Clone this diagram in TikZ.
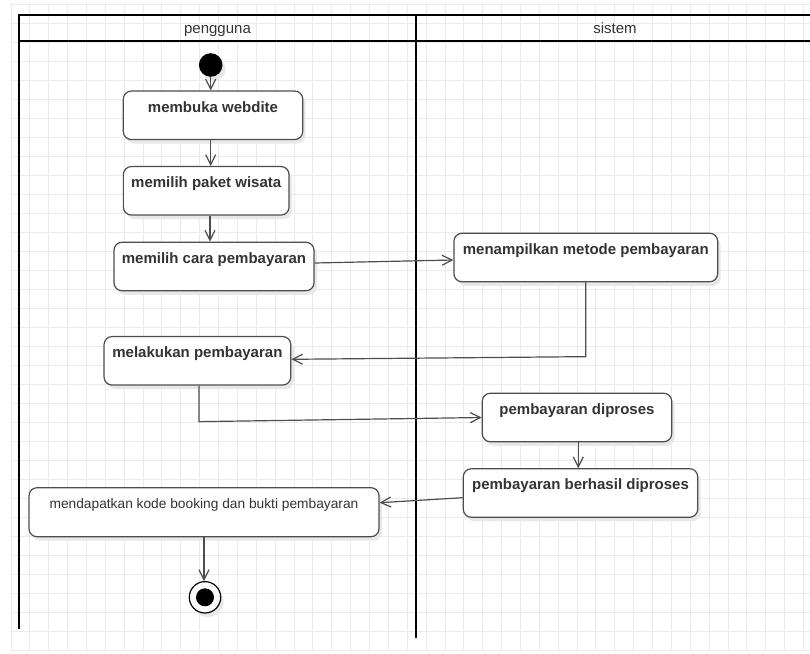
\documentclass[tikz,border=0pt]{standalone}
\usepackage{fontspec}
\setmainfont{Liberation Sans}
\usetikzlibrary{arrows.meta, positioning, shadows, calc}
\definecolor{gridline}{HTML}{EBEBEB}
\definecolor{boxline}{HTML}{4D4D4D}
\definecolor{boxtext}{HTML}{333333}
\colorlet{shadowgray}{black!9}
\tikzset{
  act/.style={draw=boxline, line width=1.2pt, fill=white, rounded corners=8pt,
    text=boxtext, font=\fontsize{15}{17}\selectfont\bfseries, align=center,
    inner xsep=0pt, inner ysep=0pt, text height=21pt, text depth=27.5pt,
    drop shadow={shadow xshift=3pt, shadow yshift=-4pt, fill=shadowgray, opacity=1}},
  lanehead/.style={text=boxtext, font=\fontsize{15}{17}\selectfont, inner sep=0pt,
    text height=10.5pt, text depth=3pt},
  flow/.style={draw=boxline, line width=1.2pt, -{Straight Barb[length=10pt,width=10pt]}},
  lane/.style={draw=black, line width=2pt},
}
\newcommand{\bggrid}{%
  \foreach \i in {0,...,42} {
    \draw[gridline, line width=1pt] (11+\i*18.87,3) -- ++(0,647);
  }%
  \foreach \j in {0,...,34} {
    \draw[gridline, line width=1pt] (10,4+\j*19) -- (810,4+\j*19);
  }%
}

\begin{document}
\begin{tikzpicture}[x=1pt, y=-1pt]
  \useasboundingbox (0,0) rectangle (810,653);
  \bggrid

  % swimlanes
  \draw[lane] (810,15) -- (19,15) -- (19,629);
  \draw[lane] (19,40.7) -- (810,40.7);
  \draw[lane] (416,15) -- (416,638);
  \node[lanehead] (pengguna) at (217.5,29.5) {pengguna};
  \node[lanehead] (sistem) at (615,29.5) {sistem};

  % pengguna
  \node[circle, fill=black, minimum size=23.6pt, inner sep=0pt,
    drop shadow={shadow xshift=3pt, shadow yshift=-4pt, fill=shadowgray, opacity=1}] (start) at (210.7,65) {};
  \node[act, minimum width=179.4pt] (buka) at (213,115.3) {membuka webdite};
  \node[act, minimum width=165.7pt] (paket) at (206.2,190.8) {memilih paket wisata};
  \node[act, minimum width=200pt] (cara) at (214,266.5) {memilih cara pembayaran};
  \node[act, minimum width=186.7pt] (bayar) at (197.4,360.8) {melakukan pembayaran};
  \node[act, minimum width=350pt, font=\fontsize{13.75}{16}\selectfont,
    text height=20.5pt, text depth=28.5pt] (kode) at (204,512.2) {mendapatkan kode booking dan bukti pembayaran};
  \node[circle, draw=black, line width=1.2pt, fill=white, minimum size=31.4pt, inner sep=0pt,
    drop shadow={shadow xshift=3pt, shadow yshift=-4pt, fill=shadowgray, opacity=1},
    path picture={\fill[black] (path picture bounding box.center) circle (9pt);}] (end) at (205,597.3) {};

  % sistem
  \node[act, minimum width=263.7pt] (metode) at (585.8,257.5) {menampilkan metode pembayaran};
  \node[act, minimum width=189.4pt] (proses) at (577,417.5) {pembayaran diproses};
  \node[act, minimum width=234.4pt] (berhasil) at (580.5,493) {pembayaran berhasil diproses};

  % alur
  \draw[flow] (start) -- (start |- buka.north);
  \draw[flow] ([xshift=-2.3pt]buka.south) -- ([xshift=-2.3pt]buka.south |- paket.north);
  \draw[flow] ([xshift=3.8pt]paket.south) -- ([xshift=3.8pt]paket.south |- cara.north);
  \draw[flow] ([yshift=3.5pt]cara.east) -- ([yshift=-2.5pt]metode.west);
  \draw[flow] (metode.south) -- ++(0,74.3) -- ([yshift=1.5pt]bayar.east);
  \draw[flow] ([xshift=1.5pt]bayar.south) -- ++(0,36) -- (proses.west);
  \draw[flow] ([xshift=1.3pt]proses.south) -- ([xshift=1.3pt]proses.south |- berhasil.north);
  \draw[flow] ([yshift=-4.7pt]berhasil.west) -- ([yshift=9.5pt]kode.east);
  \draw[flow] (kode.south) -- (kode.south |- end.north);
\end{tikzpicture}
\end{document}
